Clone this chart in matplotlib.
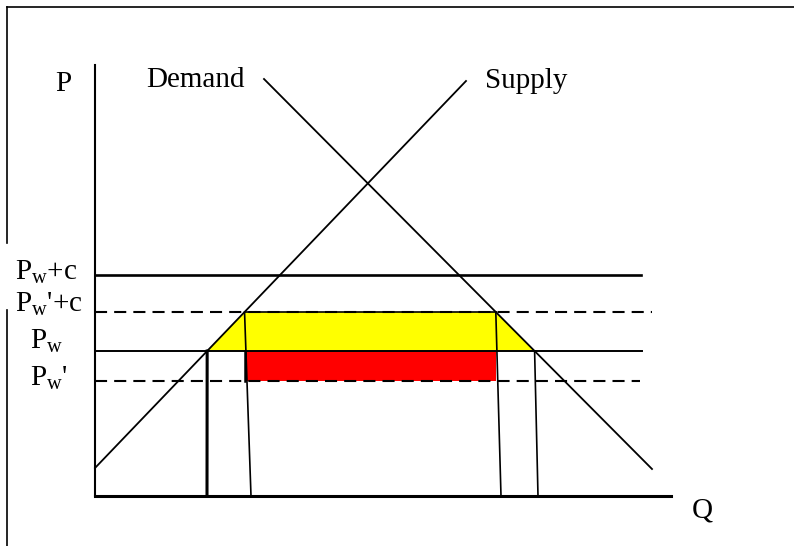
import numpy as np
import matplotlib
matplotlib.use("Agg")
import matplotlib.pyplot as plt

plt.rcParams['font.family'] = ['Liberation Serif', 'DejaVu Serif']
plt.rcParams['mathtext.fontset'] = 'custom'
plt.rcParams['mathtext.rm'] = 'Liberation Serif'
plt.rcParams['mathtext.it'] = 'Liberation Serif:italic'

# supply and demand lines (end points)
supply_q = [0.0, 37.1]
supply_p = [2.8, 41.5]
demand_q = [16.9, 55.7]
demand_p = [41.7, 2.7]

# price levels
pw_c = 22.1      # Pw + c
pw2_c = 18.4     # Pw' + c
pw = 14.5        # Pw
pw2 = 11.5       # Pw'
level_ends = [54.6, 55.7, 54.7, 54.5]

# quantity where the drop lines meet the Q axis
drop_bottom = [11.2, 15.6, 40.6, 44.3]

q_max = 57.6
p_max = 43.1


def supply_at(p):
    return np.interp(p, supply_p, supply_q)


def demand_at(p):
    return np.interp(p, demand_p[::-1], demand_q[::-1])


fig = plt.figure(figsize=(7.94, 5.46), dpi=100)
ax = fig.add_axes([0, 0, 1, 1])
ax.set_xlim(-9.5, 69.9)
ax.set_ylim(-5.0, 49.6)
ax.axis('off')

# yellow and red areas
qs_hi, qd_hi = supply_at(pw2_c), demand_at(pw2_c)
qs_w, qd_w = supply_at(pw), demand_at(pw)
ax.fill([qs_w, qs_hi, qd_hi, qd_w], [pw, pw2_c, pw2_c, pw], color='yellow', lw=0)
ax.fill([qs_hi, qd_hi, qd_hi, qs_hi], [pw2, pw2, pw, pw], color='red', lw=0)
ax.plot([qs_hi, qd_hi], [pw2_c, pw2_c], color='black', lw=1.2)

# axes
ax.plot([0, 0], [0, p_max], color='black', lw=1.5)
ax.plot([0, q_max], [0, 0], color='black', lw=2.2)

# price lines
ax.plot([0, level_ends[0]], [pw_c, pw_c], color='black', lw=1.9)
ax.plot([0, level_ends[1]], [pw2_c, pw2_c], color='black', lw=1.5, dashes=(5.8, 3.4))
ax.plot([0, level_ends[2]], [pw, pw], color='black', lw=1.4)
ax.plot([0, level_ends[3]], [pw2, pw2], color='black', lw=1.5, dashes=(5.8, 3.4))

# supply and demand
ax.plot(supply_q, supply_p, color='black', lw=1.3)
ax.plot(demand_q, demand_p, color='black', lw=1.3)

# drop lines to the Q axis
tops = [(qs_w, pw), (qs_hi, pw2_c), (qd_hi, pw2_c), (qd_w, pw)]
widths = [2.2, 1.2, 1.2, 1.2]
for (qt, pt), qb, w in zip(tops, drop_bottom, widths):
    ax.plot([qt, qb], [pt, 0], color='black', lw=w)
ax.plot([qs_hi, qs_hi], [pw2, pw], color='black', lw=1.8)

# labels
fs = 21
ax.text(-4.0, 40.5, 'P', fontsize=fs, va='baseline')
ax.text(5.1, 40.9, 'Demand', fontsize=fs, va='baseline')
ax.text(39.0, 40.8, 'Supply', fontsize=fs, va='baseline')
ax.text(59.7, -2.1, 'Q', fontsize=fs, va='baseline')
ax.text(-8.0, 21.6, r'P$_\mathrm{w}$+c', fontsize=fs, va='baseline')
ax.text(-8.0, 18.4, r"P$_\mathrm{w}$'+c", fontsize=fs, va='baseline')
ax.text(-6.5, 14.7, r'P$_\mathrm{w}$', fontsize=fs, va='baseline')
ax.text(-6.5, 11.0, r"P$_\mathrm{w}$'", fontsize=fs, va='baseline')

# outer frame
ax.plot([0.009, 1.0], [0.987, 0.987], transform=ax.transAxes, color='black', lw=1.2)
ax.plot([0.009, 0.009], [0.987, 1 - 243 / 546], transform=ax.transAxes, color='black', lw=1.2)
ax.plot([0.009, 0.009], [1 - 310 / 546, 0.0], transform=ax.transAxes, color='black', lw=1.2)

fig.savefig('out.png', dpi=100)
